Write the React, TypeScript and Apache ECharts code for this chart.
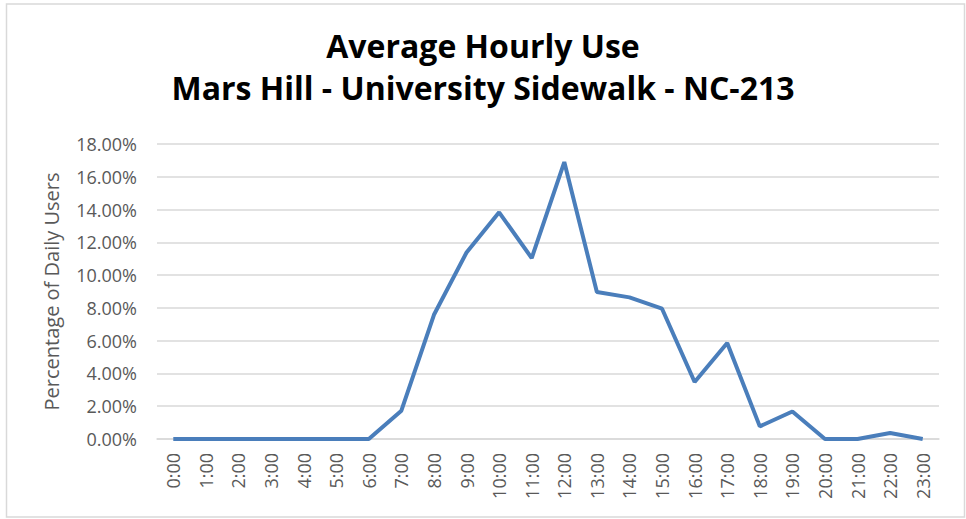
import React, { useEffect, useRef } from "react";
import * as echarts from "echarts";

const hours: string[] = [
  "0:00", "1:00", "2:00", "3:00", "4:00", "5:00", "6:00", "7:00", "8:00", "9:00",
  "10:00", "11:00", "12:00", "13:00", "14:00", "15:00", "16:00", "17:00", "18:00",
  "19:00", "20:00", "21:00", "22:00", "23:00",
];
const shareOfDailyUsers: number[] = [
  0, 0, 0, 0, 0, 0, 0, 1.73, 7.58, 11.38, 13.83, 11.04, 16.9, 8.97, 8.64, 7.95,
  3.48, 5.86, 0.77, 1.68, 0, 0, 0.37, 0,
];
const titleLines: string[] = ["Average Hourly Use", "Mars Hill - University Sidewalk - NC-213"];
const yAxisName = "Percentage of Daily Users";

export default function App() {
  const ref = useRef<HTMLDivElement>(null);
  useEffect(() => {
    if (!ref.current) return;
    const chart = echarts.init(ref.current, null, { renderer: "svg" });
    const font = "'Open Sans', 'Liberation Sans', Arial, sans-serif";
    chart.setOption({
      animation: false,
      backgroundColor: "#ffffff",
      title: {
        text: titleLines.join("\n"),
        left: "center",
        top: 19,
        textStyle: {
          fontFamily: font,
          fontSize: 32,
          fontWeight: "bold",
          color: "#000000",
          lineHeight: 42.5,
        },
      },
      graphic: [
        {
          type: "rect",
          shape: { x: 6.5, y: 4, width: 958, height: 513 },
          style: { fill: "none", stroke: "#d9d9d9", lineWidth: 1.5 },
          silent: true,
        },
      ],
      grid: { left: 157, right: 27, top: 144, bottom: 80, containLabel: false },
      xAxis: {
        type: "category",
        data: hours,
        boundaryGap: true,
        axisLine: { show: true, lineStyle: { color: "#d9d9d9", width: 1.5 } },
        axisTick: { show: false },
        axisLabel: {
          rotate: 90,
          interval: 0,
          color: "#595959",
          fontFamily: font,
          fontSize: 18,
          margin: 14,
        },
      },
      yAxis: {
        type: "value",
        min: 0,
        max: 18,
        interval: 2,
        name: yAxisName,
        nameLocation: "middle",
        nameGap: 96,
        nameTextStyle: { color: "#595959", fontFamily: font, fontSize: 20 },
        axisLine: { show: false },
        axisTick: { show: false },
        splitLine: { lineStyle: { color: "#d9d9d9", width: 1.5 } },
        axisLabel: {
          color: "#595959",
          fontFamily: font,
          fontSize: 18,
          margin: 20,
          formatter: (v: number) => v.toFixed(2) + "%",
        },
      },
      series: [
        {
          type: "line",
          data: shareOfDailyUsers,
          symbol: "none",
          lineStyle: { color: "#4a7ebb", width: 4 },
          itemStyle: { color: "#4a7ebb" },
        },
      ],
    });
    return () => chart.dispose();
  }, []);
  return (
    <div
      ref={ref}
      style={{ position: "fixed", left: 0, top: 0, width: 966, height: 519 }}
    />
  );
}
